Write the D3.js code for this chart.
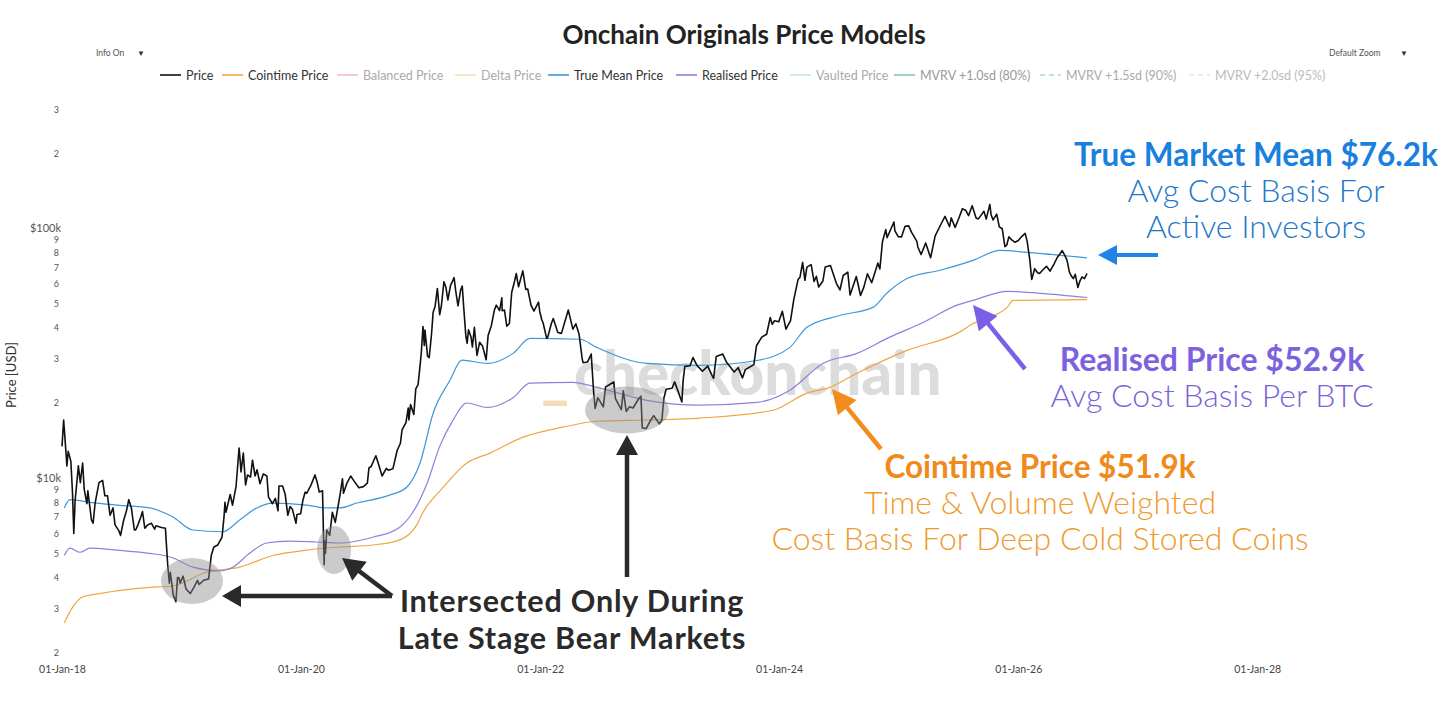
<!DOCTYPE html>
<html>
<head>
<meta charset="utf-8">
<script src="https://cdn.jsdelivr.net/npm/d3@7"></script>
<style>
  body { margin: 0; background: #fff; }
  svg { display: block; }
  text { font-family: Lato, "Open Sans", sans-serif; }
</style>
</head>
<body>
<svg id="chart" width="1456" height="708"></svg>
<script>
// series: [date, USD]
var priceData = [
  ["2018-01-01",13400],["2018-01-06",17100],["2018-01-10",14500],["2018-01-16",11200],["2018-01-20",12800],["2018-01-28",11700],
  ["2018-02-02",8800],["2018-02-06",6000],["2018-02-10",8100],["2018-02-20",11200],["2018-02-26",9600],["2018-03-05",11500],
  ["2018-03-10",9000],["2018-03-18",7900],["2018-03-21",8900],["2018-04-01",6800],["2018-04-06",6600],["2018-04-12",7900],
  ["2018-04-24",9600],["2018-05-05",9800],["2018-05-12",8500],["2018-05-20",8500],["2018-05-28",7100],["2018-06-06",7600],
  ["2018-06-12",6500],["2018-06-24",6150],["2018-06-29",5900],["2018-07-08",6750],["2018-07-17",7400],["2018-07-24",8200],
  ["2018-08-01",7600],["2018-08-10",6200],["2018-08-14",6200],["2018-08-21",6500],["2018-08-30",7000],["2018-09-04",7350],
  ["2018-09-11",6300],["2018-09-20",6500],["2018-10-01",6600],["2018-10-11",6250],["2018-10-15",6450],["2018-11-01",6350],
  ["2018-11-13",6300],["2018-11-15",5700],["2018-11-20",4500],["2018-11-25",3800],["2018-11-28",4200],["2018-12-07",3400],
  ["2018-12-15",3200],["2018-12-20",4000],["2018-12-24",4000],["2018-12-28",3800],
  ["2019-01-06",4050],["2019-01-15",3600],["2019-01-28",3450],["2019-02-08",3650],["2019-02-19",3900],["2019-02-24",3750],
  ["2019-03-10",3900],["2019-03-25",3950],["2019-04-02",4900],["2019-04-10",5300],["2019-04-22",5400],["2019-05-05",5800],
  ["2019-05-11",7000],["2019-05-14",8000],["2019-05-17",7300],["2019-05-30",8600],["2019-06-06",7800],["2019-06-17",9300],
  ["2019-06-26",13200],["2019-06-28",12400],["2019-07-02",10600],["2019-07-09",12600],["2019-07-16",9400],["2019-07-22",10300],
  ["2019-07-31",10100],["2019-08-06",11800],["2019-08-14",10200],["2019-08-20",10800],["2019-08-29",9500],["2019-09-08",10400],
  ["2019-09-19",10200],["2019-09-24",8400],["2019-10-06",7900],["2019-10-15",8300],["2019-10-23",7400],["2019-10-26",9300],
  ["2019-11-06",9300],["2019-11-14",8600],["2019-11-22",7100],["2019-11-29",7700],["2019-12-06",7500],["2019-12-17",6600],
  ["2019-12-20",7150],["2019-12-31",7200],
  ["2020-01-07",8150],["2020-01-14",8800],["2020-01-19",8700],["2020-02-01",9400],["2020-02-13",10300],["2020-02-20",9600],
  ["2020-02-26",8800],["2020-03-07",8900],["2020-03-12",4500],["2020-03-13",5600],["2020-03-16",5000],["2020-03-20",6200],
  ["2020-03-29",5900],["2020-04-06",7300],["2020-04-15",6650],["2020-04-30",8650],["2020-05-07",9950],["2020-05-10",8700],
  ["2020-05-20",9500],["2020-06-01",10200],["2020-06-10",9800],["2020-06-26",9150],["2020-07-10",9250],["2020-07-22",9550],
  ["2020-07-27",11000],["2020-08-02",11100],["2020-08-17",12300],["2020-08-25",11400],["2020-09-05",10200],["2020-09-18",10950],
  ["2020-09-24",10750],["2020-10-08",10900],["2020-10-21",12900],["2020-10-31",13800],["2020-11-05",15600],["2020-11-17",16700],
  ["2020-11-24",19100],["2020-11-26",17100],["2020-12-01",19700],["2020-12-11",18000],["2020-12-17",22800],["2020-12-24",23700],
  ["2020-12-31",29000],
  ["2021-01-03",32000],["2021-01-08",40500],["2021-01-12",34000],["2021-01-14",39200],["2021-01-22",30800],["2021-01-27",30400],
  ["2021-02-03",37600],["2021-02-08",46200],["2021-02-14",48700],["2021-02-21",57500],["2021-02-28",45100],["2021-03-05",48800],
  ["2021-03-13",61200],["2021-03-19",58100],["2021-03-25",51700],["2021-04-02",59000],["2021-04-13",63500],["2021-04-18",56200],
  ["2021-04-25",49000],["2021-05-03",56600],["2021-05-08",58800],["2021-05-12",49200],["2021-05-19",37000],["2021-05-23",34700],
  ["2021-05-27",39300],["2021-06-04",36700],["2021-06-08",33500],["2021-06-14",40200],["2021-06-22",31000],["2021-06-30",35000],
  ["2021-07-09",33800],["2021-07-20",29800],["2021-07-26",37300],["2021-08-05",40900],["2021-08-14",47000],["2021-08-20",49300],
  ["2021-08-30",46900],["2021-09-06",52700],["2021-09-07",46800],["2021-09-14",47100],["2021-09-21",40600],["2021-09-29",41600],
  ["2021-10-06",55400],["2021-10-15",61600],["2021-10-20",66000],["2021-10-27",58400],["2021-11-09",67600],["2021-11-18",57000],
  ["2021-11-24",57200],["2021-12-04",49300],["2021-12-13",46700],["2021-12-27",50700],["2021-12-31",46300],
  ["2022-01-06",43100],["2022-01-10",41800],["2022-01-21",36300],["2022-01-24",36600],["2022-02-04",41500],["2022-02-10",43600],
  ["2022-02-24",38300],["2022-03-07",38000],["2022-03-28",47100],["2022-04-11",39500],["2022-04-20",41500],["2022-04-30",37700],
  ["2022-05-09",30300],["2022-05-12",29000],["2022-05-26",29200],["2022-06-06",31400],["2022-06-13",22500],["2022-06-18",19000],
  ["2022-06-26",21000],["2022-07-13",19300],["2022-07-20",23200],["2022-07-30",23600],["2022-08-14",24300],["2022-08-19",20800],
  ["2022-09-06",18800],["2022-09-12",22400],["2022-09-21",18500],["2022-10-01",19300],["2022-10-12",19100],["2022-10-29",20800],
  ["2022-11-05",21300],["2022-11-09",15900],["2022-11-21",15800],["2022-12-05",17100],["2022-12-14",17800],["2022-12-31",16500],
  ["2023-01-08",17100],["2023-01-14",20900],["2023-01-21",22700],["2023-02-08",22900],["2023-02-16",24300],["2023-03-10",20200],
  ["2023-03-14",24700],["2023-03-19",28000],["2023-04-04",28200],["2023-04-13",30400],["2023-04-25",28300],["2023-05-12",26800],
  ["2023-05-28",28100],["2023-06-10",25800],["2023-06-15",25100],["2023-06-23",30700],["2023-07-13",31400],["2023-07-24",29200],
  ["2023-08-17",26600],["2023-08-29",27700],["2023-09-11",25200],["2023-09-20",27200],["2023-10-16",28500],["2023-10-24",33900],
  ["2023-11-09",36700],["2023-11-24",37700],["2023-12-05",44000],["2023-12-11",41300],["2023-12-18",42700],["2023-12-31",42300],
  ["2024-01-11",46600],["2024-01-22",39500],["2024-02-05",42700],["2024-02-15",51900],["2024-02-28",62400],["2024-03-05",63800],
  ["2024-03-13",73100],["2024-03-20",62000],["2024-03-26",70000],["2024-04-08",71600],["2024-04-17",61300],["2024-04-24",64300],
  ["2024-05-01",58300],["2024-05-14",61600],["2024-05-21",70100],["2024-06-06",71000],["2024-06-24",60300],["2024-07-05",56700],
  ["2024-07-15",64800],["2024-07-29",66800],["2024-08-05",54100],["2024-08-24",64200],["2024-09-06",53900],["2024-09-16",58200],
  ["2024-09-27",65800],["2024-10-10",60600],["2024-10-29",72700],["2024-11-04",68800],["2024-11-12",88700],["2024-11-22",98900],
  ["2024-11-26",91900],["2024-12-05",97700],["2024-12-17",106100],["2024-12-20",97700],["2024-12-30",92700],
  ["2025-01-09",92500],["2025-01-20",102000],["2025-01-31",102400],["2025-02-09",96500],["2025-02-25",88700],["2025-02-28",84300],
  ["2025-03-10",78600],["2025-03-24",87500],["2025-04-08",76300],["2025-04-22",93400],["2025-05-08",103000],["2025-05-22",111700],
  ["2025-06-05",101600],["2025-06-10",110200],["2025-06-22",101000],["2025-07-03",109600],["2025-07-14",119800],["2025-07-24",118300],
  ["2025-08-02",112500],["2025-08-13",123300],["2025-08-25",110100],["2025-09-01",109200],["2025-09-18",117100],["2025-09-25",109000],
  ["2025-10-06",124800],["2025-10-10",113200],["2025-10-16",108200],["2025-10-27",114100],["2025-11-04",101500],["2025-11-13",99700],
  ["2025-11-21",84600],["2025-11-27",86000],["2025-12-03",92500],["2025-12-12",90000],["2025-12-22",88000],["2026-01-01",89500],
  ["2026-01-12",93000],["2026-01-22",95500],["2026-01-28",89000],["2026-02-05",75000],["2026-02-11",62500],["2026-02-20",69000],
  ["2026-03-01",66500],["2026-03-07",66000],["2026-03-18",68500],["2026-03-28",70500],["2026-04-08",67500],["2026-04-20",72000],
  ["2026-04-30",76500],["2026-05-08",79000],["2026-05-15",81500],["2026-05-23",78000],["2026-05-30",74500],["2026-06-06",67000],
  ["2026-06-12",64500],["2026-06-18",63000],["2026-06-24",65500],["2026-07-02",58000],["2026-07-08",61500],["2026-07-15",64000],
  ["2026-07-22",63000],["2026-07-30",66000]
];

var trueMeanData = [
  ["2018-01-08",7600],["2018-01-25",8200],["2018-03-27",8000],["2018-06-18",7800],["2018-09-26",7600],["2018-12-05",7000],
  ["2019-02-05",6200],["2019-05-07",6100],["2019-06-28",6800],["2019-08-19",7600],["2019-10-07",7950],["2020-01-19",7800],
  ["2020-03-20",7600],["2020-04-28",7600],["2020-06-20",7950],["2020-09-28",8550],["2020-11-19",9200],["2020-12-30",11500],
  ["2021-02-08",18200],["2021-03-31",24600],["2021-05-07",29700],["2021-07-23",28800],["2021-10-10",31600],["2021-12-01",36300],
  ["2022-05-02",36000],["2022-06-23",33400],["2022-11-23",28800],["2023-05-04",28300],["2023-10-25",29600],["2024-02-03",33400],
  ["2024-03-26",40200],["2024-07-04",44800],["2024-10-14",48300],["2024-11-25",55000],["2025-01-26",63000],["2025-05-07",68000],
  ["2025-08-16",74500],["2025-11-06",81700],["2026-02-07",80000],["2026-07-30",76200]
];

var realisedData = [
  ["2018-01-08",4900],["2018-01-25",5250],["2018-02-25",5050],["2018-03-27",5250],["2018-06-18",5150],["2018-09-26",5000],
  ["2018-12-05",4800],["2019-02-05",4400],["2019-04-27",4250],["2019-06-07",4400],["2019-07-28",5000],["2019-09-18",5500],
  ["2019-11-27",5600],["2020-02-18",5550],["2020-04-28",5500],["2020-08-08",5800],["2020-10-28",6350],["2020-12-08",7300],
  ["2021-01-20",9500],["2021-03-01",13500],["2021-04-09",17000],["2021-05-22",20000],["2021-07-23",19200],["2021-10-10",21000],
  ["2021-12-01",24000],["2022-04-10",24200],["2022-06-23",23100],["2022-11-23",20500],["2023-05-04",19600],["2023-10-25",20100],
  ["2024-02-03",22500],["2024-05-14",28800],["2024-08-26",31600],["2024-12-04",36700],["2025-03-16",42000],["2025-06-28",49300],
  ["2025-08-16",51500],["2025-11-28",56000],["2026-03-08",55000],["2026-07-30",52900]
];

var cointimeData = [
  ["2018-01-08",2630],["2018-02-03",3050],["2018-03-06",3350],["2018-04-26",3450],["2018-08-05",3600],["2018-09-26",3650],
  ["2018-12-05",3700],["2019-03-18",4200],["2019-06-28",4400],["2019-10-07",4900],["2020-01-19",5150],["2020-04-28",5300],
  ["2020-08-08",5400],["2020-10-28",5650],["2020-12-20",6500],["2021-01-08",7300],["2021-02-08",8300],["2021-03-01",8900],
  ["2021-05-22",11500],["2021-08-01",12600],["2021-11-10",14600],["2022-03-11",16000],["2022-06-23",16900],["2022-11-23",17100],
  ["2023-05-04",17400],["2023-12-13",18700],["2024-03-26",21900],["2024-06-04",23100],["2024-08-26",26300],["2025-01-26",32500],
  ["2025-06-28",38000],["2025-08-16",41600],["2025-11-28",48300],["2025-12-16",51500],["2026-07-30",51900]
];

var yTicks = [2000,3000,4000,5000,6000,7000,8000,9000,10000,20000,30000,40000,50000,60000,70000,80000,90000,100000,200000,300000];
var xTicks = ["2018-01-01","2020-01-01","2022-01-01","2024-01-01","2026-01-01","2028-01-01"];

var legendNames = ["Price","Cointime Price","Balanced Price","Delta Price","True Mean Price","Realised Price","Vaulted Price","MVRV +1.0sd (80%)","MVRV +1.5sd (90%)","MVRV +2.0sd (95%)"];
var legendColors = ["#111111","#f2a444","#f2bccb","#f6e2b8","#3d98d8","#8f7fdc","#bfe9dc","#7fc8bc","#a6dcd4","#d2efea"];
var legendText = ["#333","#333","#aaa","#aaa","#333","#333","#aaa","#999","#aaa","#bbb"];
var legendDash = [null,null,null,null,null,null,null,null,"5,4","5,4"];
var legendX = [160,222,337,455,548,676,790,894,1040,1189];

var parse = d3.utcParse("%Y-%m-%d");
function rows(a) { return a.map(function(d) { return { date: parse(d[0]), v: d[1] }; }); }

var svg = d3.select("#chart");

var x = d3.scaleUtc()
    .domain([parse("2018-01-01"), parse("2028-04-01")])
    .range([62, 1287]);
var y = d3.scaleLog()
    .domain([2000, 300000])
    .range([652.7, 109.3]);

// watermark behind everything
svg.append("text").attr("x", 541).attr("y", 397)
    .attr("font-size", 60).attr("font-weight", 900)
    .attr("fill", "#f6dcb4").text("_");
svg.append("text").attr("x", 574).attr("y", 395)
    .attr("font-size", 60).attr("font-weight", 900)
    .attr("fill", "#d6d6d6").attr("fill-opacity", 0.85).text("checkonchain");

// axes
var yAxis = svg.append("g")
    .attr("transform", "translate(61,0)")
    .call(d3.axisLeft(y).tickValues(yTicks).tickSize(0).tickPadding(0)
      .tickFormat(function(d) {
        if (d === 10000) return "$10k";
        if (d === 100000) return "$100k";
        return String(d).charAt(0);
      }));
yAxis.select(".domain").remove();
yAxis.selectAll("text")
    .attr("fill", "#555")
    .style("font-family", "Lato, sans-serif")
    .attr("font-size", function(d) { return (d === 10000 || d === 100000) ? 11 : 9; })
    .attr("dx", function(d) { return (d === 10000 || d === 100000) ? 0 : -2; });

var xAxis = svg.append("g")
    .attr("transform", "translate(0,666)")
    .call(d3.axisBottom(x).tickValues(xTicks.map(parse)).tickSize(0).tickPadding(0)
      .tickFormat(d3.utcFormat("%d-%b-%y")));
xAxis.select(".domain").remove();
xAxis.selectAll("text").attr("fill", "#444").attr("font-size", 10.5).style("font-family", "Lato, sans-serif");

svg.append("text")
    .attr("transform", "translate(16,375) rotate(-90)")
    .attr("text-anchor", "middle")
    .attr("font-size", 13).attr("fill", "#333")
    .text("Price [USD]");

// lines
var smooth = d3.line().x(function(d) { return x(d.date); }).y(function(d) { return y(d.v); }).curve(d3.curveMonotoneX);
var sharp = d3.line().x(function(d) { return x(d.date); }).y(function(d) { return y(d.v); });

svg.append("path").datum(rows(cointimeData)).attr("d", smooth)
    .attr("fill", "none").attr("stroke", legendColors[1]).attr("stroke-width", 1.2);
svg.append("path").datum(rows(realisedData)).attr("d", smooth)
    .attr("fill", "none").attr("stroke", legendColors[5]).attr("stroke-width", 1.2);
svg.append("path").datum(rows(trueMeanData)).attr("d", smooth)
    .attr("fill", "none").attr("stroke", legendColors[4]).attr("stroke-width", 1.2);
svg.append("path").datum(rows(priceData)).attr("d", sharp)
    .attr("fill", "none").attr("stroke", legendColors[0]).attr("stroke-width", 1.6)
    .attr("stroke-linejoin", "round");

// title, menus, legend
svg.append("text").attr("x", 744).attr("y", 44).attr("text-anchor", "middle")
    .attr("font-size", 26).attr("font-weight", 700).attr("fill", "#222")
    .text("Onchain Originals Price Models");
svg.append("text").attr("x", 96).attr("y", 56).attr("font-size", 8.5).attr("fill", "#555").text("Info On");
svg.append("text").attr("x", 137).attr("y", 56).attr("font-size", 8).attr("fill", "#333").text("▼");
svg.append("text").attr("x", 1329).attr("y", 56).attr("font-size", 8.5).attr("fill", "#555").text("Default Zoom");
svg.append("text").attr("x", 1400).attr("y", 56).attr("font-size", 8).attr("fill", "#333").text("▼");

var leg = svg.append("g").selectAll("g").data(legendNames).join("g")
    .attr("transform", function(d, i) { return "translate(" + legendX[i] + ",75)"; });
leg.append("line").attr("x1", 0).attr("x2", 21).attr("y1", 0).attr("y2", 0)
    .attr("stroke", function(d, i) { return legendColors[i]; })
    .attr("stroke-width", 1.6)
    .attr("stroke-dasharray", function(d, i) { return legendDash[i]; });
leg.append("text").attr("x", 26).attr("y", 4.5).attr("font-size", 12.5)
    .attr("fill", function(d, i) { return legendText[i]; })
    .text(function(d) { return d; });

// grey highlight ellipses
var ell = [[192, 581, 31, 23], [334, 550, 17, 24], [627, 410, 42, 23.5]];
svg.append("g").selectAll("ellipse").data(ell).join("ellipse")
    .attr("cx", function(d) { return d[0]; }).attr("cy", function(d) { return d[1]; })
    .attr("rx", function(d) { return d[2]; }).attr("ry", function(d) { return d[3]; })
    .attr("fill", "#8c8c8c").attr("fill-opacity", 0.45);

// arrows
function arrow(x1, y1, x2, y2, color, w, hl, hw) {
  var a = Math.atan2(y2 - y1, x2 - x1);
  var bx = x2 - Math.cos(a) * hl, by = y2 - Math.sin(a) * hl;
  svg.append("line").attr("x1", x1).attr("y1", y1).attr("x2", bx + Math.cos(a)).attr("y2", by + Math.sin(a))
      .attr("stroke", color).attr("stroke-width", w);
  var px = -Math.sin(a) * hw, py = Math.cos(a) * hw;
  svg.append("path")
      .attr("d", "M" + x2 + "," + y2 + "L" + (bx + px) + "," + (by + py) + "L" + (bx - px) + "," + (by - py) + "Z")
      .attr("fill", color);
}
arrow(1158, 255, 1098, 255, "#1f84e6", 4, 19, 10);
arrow(1025, 369, 973, 305, "#7a60e6", 4.5, 24, 12);
arrow(881, 449, 832, 389, "#f28c1e", 4.5, 24, 12);
arrow(627, 577, 627, 435, "#2a2a2a", 4.5, 20, 11);
arrow(392, 596, 222, 596, "#2a2a2a", 4.5, 19, 11);
arrow(392, 596, 342, 558, "#2a2a2a", 4.5, 22, 12);

// annotation text
function note(cx, cy, str, color, size, weight, ls) {
  svg.append("text").attr("x", cx).attr("y", cy).attr("text-anchor", "middle")
      .attr("font-size", size).attr("font-weight", weight).attr("fill", color)
      .attr("letter-spacing", ls || 0).text(str);
}
note(1256, 166, "True Market Mean $76.2k", "#1a80de", 31.5, 700);
note(1256, 202, "Avg Cost Basis For", "#2277c9", 32, 300);
note(1256, 238, "Active Investors", "#2277c9", 32, 300);
note(1212, 371, "Realised Price $52.9k", "#7d62e0", 32, 700);
note(1212, 407, "Avg Cost Basis Per BTC", "#7a62d8", 32, 300);
note(1040, 478, "Cointime Price $51.9k", "#f08a1a", 31.5, 700);
note(1040, 514, "Time & Volume Weighted", "#ef9a2e", 32, 300);
note(1040, 550, "Cost Basis For Deep Cold Stored Coins", "#ef9a2e", 32, 300);
note(572, 612, "Intersected Only During", "#2a2a2a", 30.5, 700, 0.8);
note(572, 649, "Late Stage Bear Markets", "#2a2a2a", 30.5, 700, 0.8);
</script>
</body>
</html>
